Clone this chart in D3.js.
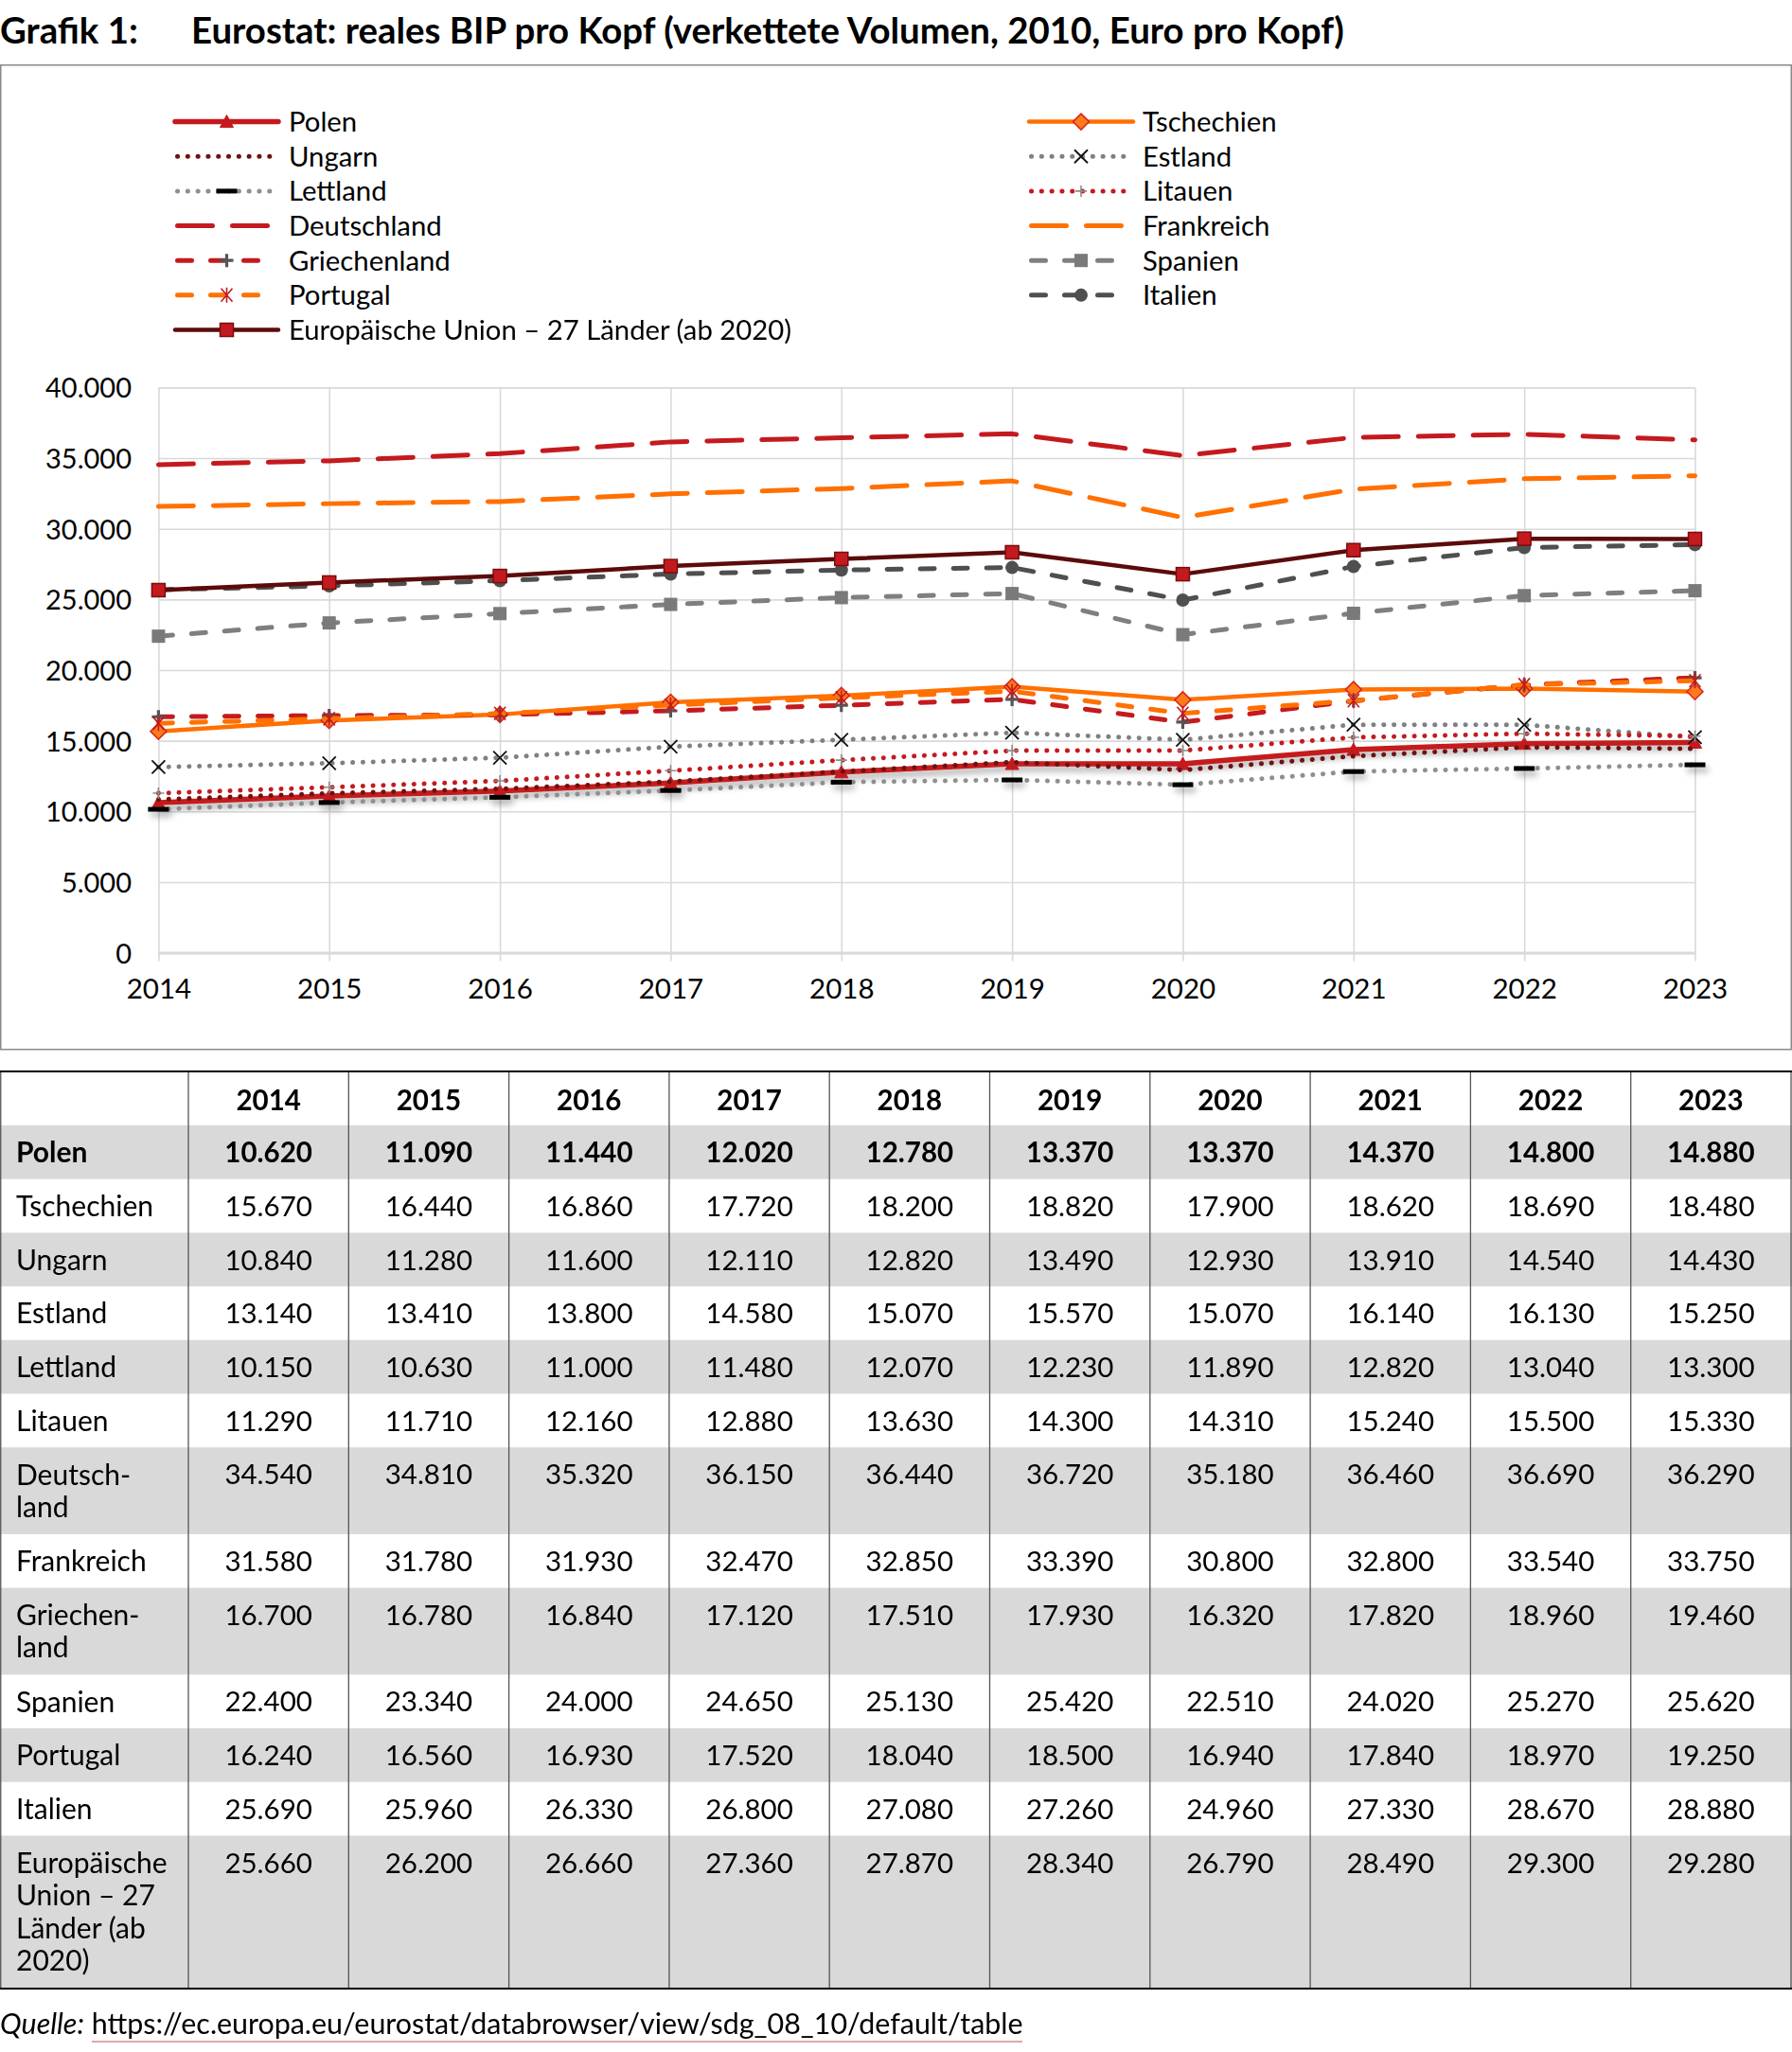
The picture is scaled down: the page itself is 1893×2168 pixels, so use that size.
<!DOCTYPE html>
<html><head><meta charset="utf-8">
<script src="https://cdn.jsdelivr.net/npm/d3@7/dist/d3.min.js"></script>
<style>
html,body{margin:0;padding:0;background:#fff;}
svg{display:block;font-family:Lato,"Noto Sans",sans-serif;}
</style></head><body>
<svg id="c" width="1893" height="2168"></svg>
<script>
// ---------------- data ----------------
const years = [2014, 2015, 2016, 2017, 2018, 2019, 2020, 2021, 2022, 2023];
const yTicks = [0, 5000, 10000, 15000, 20000, 25000, 30000, 35000, 40000];
const countries = ["Polen", "Tschechien", "Ungarn", "Estland", "Lettland", "Litauen", "Deutschland", "Frankreich", "Griechenland", "Spanien", "Portugal", "Italien", "Europäische Union – 27 Länder (ab 2020)"];
const tableLabels = ["Polen", "Tschechien", "Ungarn", "Estland", "Lettland", "Litauen", "Deutsch-\nland", "Frankreich", "Griechen-\nland", "Spanien", "Portugal", "Italien", "Europäische\nUnion – 27\nLänder (ab\n2020)"];
const polen        = [10620, 11090, 11440, 12020, 12780, 13370, 13370, 14370, 14800, 14880];
const tschechien   = [15670, 16440, 16860, 17720, 18200, 18820, 17900, 18620, 18690, 18480];
const ungarn       = [10840, 11280, 11600, 12110, 12820, 13490, 12930, 13910, 14540, 14430];
const estland      = [13140, 13410, 13800, 14580, 15070, 15570, 15070, 16140, 16130, 15250];
const lettland     = [10150, 10630, 11000, 11480, 12070, 12230, 11890, 12820, 13040, 13300];
const litauen      = [11290, 11710, 12160, 12880, 13630, 14300, 14310, 15240, 15500, 15330];
const deutschland  = [34540, 34810, 35320, 36150, 36440, 36720, 35180, 36460, 36690, 36290];
const frankreich   = [31580, 31780, 31930, 32470, 32850, 33390, 30800, 32800, 33540, 33750];
const griechenland = [16700, 16780, 16840, 17120, 17510, 17930, 16320, 17820, 18960, 19460];
const spanien      = [22400, 23340, 24000, 24650, 25130, 25420, 22510, 24020, 25270, 25620];
const portugal     = [16240, 16560, 16930, 17520, 18040, 18500, 16940, 17840, 18970, 19250];
const italien      = [25690, 25960, 26330, 26800, 27080, 27260, 24960, 27330, 28670, 28880];
const eu27         = [25660, 26200, 26660, 27360, 27870, 28340, 26790, 28490, 29300, 29280];
const seriesValues = [polen, tschechien, ungarn, estland, lettland, litauen, deutschland, frankreich, griechenland, spanien, portugal, italien, eu27];

// ---------------- styles ----------------
const RED = "#c41a1f", ORANGE = "#ff7000", MAROON = "#5c0b0b", DKRED = "#6e1111";
const LONG = "37,21", DASH = "15,20", DOT = "0.1,10.7";
const FS = 29.5;
const styles = [
  {color: RED, w: 5.5, dash: null, marker: "triangle", shadow: true},
  {color: ORANGE, w: 4.5, dash: null, marker: "diamond"},
  {color: DKRED, w: 5, dash: DOT, marker: null},
  {color: "#808080", w: 5, dash: DOT, marker: "x"},
  {color: "#8f8f8f", w: 5, dash: DOT, marker: "bar"},
  {color: RED, w: 5, dash: DOT, marker: "smallplus"},
  {color: RED, w: 5, dash: LONG, marker: null},
  {color: ORANGE, w: 5, dash: LONG, marker: null},
  {color: RED, w: 5, dash: DASH, marker: "plus"},
  {color: "#7f7f7f", w: 5, dash: DASH, marker: "square"},
  {color: ORANGE, w: 5, dash: DASH, marker: "asterisk"},
  {color: "#4f4f4f", w: 5, dash: DASH, marker: "circle"},
  {color: MAROON, w: 4.5, dash: null, marker: "eusquare"}
];

const fmt = d3.formatLocale({decimal: ",", thousands: ".", grouping: [3], currency: ["", "€"]}).format(",");

const svg = d3.select("#c");
const defs = svg.append("defs");
const f = defs.append("filter").attr("id", "shadow").attr("x", "-20%").attr("y", "-50%").attr("width", "140%").attr("height", "300%");
f.append("feDropShadow").attr("dx", 3).attr("dy", 5).attr("stdDeviation", 3.5).attr("flood-color", "#000").attr("flood-opacity", 0.35);

// ---------------- title ----------------
svg.append("text").attr("x", 0).attr("y", 46).attr("font-size", 38.4).attr("font-weight", 700).attr("fill", "#000").text("Grafik 1:");
svg.append("text").attr("x", 202).attr("y", 46).attr("font-size", 38.4).attr("font-weight", 700).attr("fill", "#000")
  .text("Eurostat: reales BIP pro Kopf (verkettete Volumen, 2010, Euro pro Kopf)");

// chart frame
svg.append("rect").attr("x", 0.75).attr("y", 68.75).attr("width", 1891.5).attr("height", 1040)
  .attr("fill", "none").attr("stroke", "#8a8a8a").attr("stroke-width", 1.5);

// ---------------- scales ----------------
const x = d3.scaleLinear().domain([years[0], years[years.length - 1]]).range([167.4, 1790.5]);
const y = d3.scaleLinear().domain([0, 40000]).range([1006.6, 409.4]);

// gridlines
const g = svg.append("g");
g.append("g").attr("transform", `translate(${x.range()[0]},0)`)
  .call(d3.axisLeft(y).tickValues(yTicks.slice(1)).tickSize(-(x.range()[1] - x.range()[0])).tickFormat(""))
  .call(s => s.select(".domain").remove())
  .call(s => s.selectAll("line").attr("stroke", "#d9d9d9").attr("stroke-width", 1.6));
g.append("g").attr("transform", `translate(0,${y(40000)})`)
  .call(d3.axisBottom(x).tickValues(years).tickSize(y(0) - y(40000) + 9).tickFormat(""))
  .call(s => s.select(".domain").remove())
  .call(s => s.selectAll("line").attr("stroke", "#d9d9d9").attr("stroke-width", 1.6));
g.append("g").attr("transform", `translate(0,${y(0)})`)
  .call(d3.axisBottom(x).tickValues(years).tickSize(0).tickFormat(""))
  .call(s => s.select(".domain").attr("stroke", "#d9d9d9").attr("stroke-width", 3));

// axis labels
svg.append("g").attr("transform", `translate(139,0)`)
  .call(d3.axisLeft(y).tickValues(yTicks).tickSize(0).tickPadding(0).tickFormat(fmt))
  .call(s => s.select(".domain").remove())
  .call(s => s.selectAll("text").attr("font-size", 29).attr("font-family", "Lato").attr("fill", "#000").attr("dy", "0.36em"));
svg.append("g").attr("transform", `translate(0,1044)`)
  .call(d3.axisBottom(x).tickValues(years).tickSize(0).tickPadding(0).tickFormat(d3.format("d")))
  .call(s => s.select(".domain").remove())
  .call(s => s.selectAll("text").attr("font-size", FS).attr("font-family", "Lato").attr("fill", "#000").attr("y", 0).attr("dy", "0.36em"));

// ---------------- markers ----------------
function drawMarker(sel, type, cx, cy) {
  const m = sel.append("g").attr("transform", `translate(${cx},${cy})`);
  switch (type) {
    case "triangle":
      m.append("path").attr("d", "M0,-7L7,6L-7,6Z").attr("fill", RED).attr("stroke", RED).attr("stroke-width", 1); break;
    case "diamond":
      m.append("path").attr("d", "M0,-8.5L8.5,0L0,8.5L-8.5,0Z").attr("fill", "#ff7a1a").attr("stroke", "#d8261c").attr("stroke-width", 1.5); break;
    case "x":
      m.append("path").attr("d", "M-7,-7L7,7M-7,7L7,-7").attr("stroke", "#111").attr("stroke-width", 1.8).attr("fill", "none"); break;
    case "bar":
      m.append("rect").attr("x", -11).attr("y", -2.5).attr("width", 22).attr("height", 5).attr("fill", "#000"); break;
    case "smallplus":
      m.append("path").attr("d", "M-6,0H6M0,-6V6").attr("stroke", "#8c8c8c").attr("stroke-width", 1.6).attr("fill", "none"); break;
    case "plus":
      m.append("path").attr("d", "M-7,0H7M0,-7V7").attr("stroke", "#555").attr("stroke-width", 3.2).attr("fill", "none"); break;
    case "square":
      m.append("rect").attr("x", -7).attr("y", -7).attr("width", 14).attr("height", 14).attr("fill", "#7a7a7a"); break;
    case "asterisk":
      m.append("path").attr("d", "M-6,-7L6,7M-6,7L6,-7M0,-8V8").attr("stroke", RED).attr("stroke-width", 1.6).attr("fill", "none"); break;
    case "circle":
      m.append("circle").attr("r", 7).attr("fill", "#4f4f4f"); break;
    case "eusquare":
      m.append("rect").attr("x", -7).attr("y", -7).attr("width", 14).attr("height", 14).attr("fill", "#c41a1f").attr("stroke", "#7a0d0d").attr("stroke-width", 1.5); break;
  }
  return m;
}

// ---------------- series ----------------
const line = d3.line().x((d, i) => x(years[i])).y(d => y(d));
const plot = svg.append("g");
seriesValues.forEach((vals, k) => {
  const st = styles[k];
  const gs = plot.append("g");
  const p = gs.append("path").datum(vals).attr("d", line)
    .attr("fill", "none").attr("stroke", st.color).attr("stroke-width", st.w)
    .attr("stroke-linejoin", "round").attr("stroke-linecap", st.dash ? "round" : "butt");
  if (st.dash) p.attr("stroke-dasharray", st.dash);
  if (st.shadow) p.attr("filter", "url(#shadow)");
  if (st.marker) {
    const mg = gs.append("g");
    if (st.marker === "bar") mg.attr("filter", "url(#shadow)");
    vals.forEach((v, i) => drawMarker(mg, st.marker, x(years[i]), y(v)));
  }
});

// ---------------- legend ----------------
const leg = svg.append("g");
countries.forEach((name, k) => {
  const st = styles[k];
  const col = k % 2, row = Math.floor(k / 2);
  const x0 = col === 0 ? 185 : 1087, x1 = col === 0 ? 294 : 1197, tx = col === 0 ? 305 : 1207;
  const cy = 128.6 + row * 36.65;
  const l = leg.append("line").attr("x1", x0 + (st.dash ? 2.5 : 0)).attr("x2", x1 - (st.dash ? 2.5 : 0)).attr("y1", cy).attr("y2", cy)
    .attr("stroke", st.color).attr("stroke-width", st.w).attr("stroke-linecap", "round");
  if (st.dash) l.attr("stroke-dasharray", st.dash);
  if (st.marker) drawMarker(leg, st.marker, (x0 + x1) / 2, cy);
  leg.append("text").attr("x", tx).attr("y", cy).attr("dy", "0.36em").attr("font-size", 29.3).attr("fill", "#000").text(name);
});

// ---------------- table ----------------
const tTop = 1132, headH = 57, baseH = 56.7, lineH = 35;
const cols = d3.scaleBand().domain(years).range([199, 1892]).padding(0);
const tbl = svg.append("g");
let yy = tTop + headH;
const rowsY = [];
tableLabels.forEach((lab, r) => {
  const n = lab.split("\n").length;
  const h = baseH + (n - 1) * lineH;
  rowsY.push([yy, h]);
  if (r % 2 === 0) tbl.append("rect").attr("x", 0).attr("y", yy).attr("width", 1893).attr("height", h).attr("fill", "#d9d9d9");
  yy += h;
});
const tBottom = yy;
[0, 199, ...years.map(d => cols(d) + cols.bandwidth())].forEach(xv => {
  const xx = Math.min(Math.max(xv, 0.75), 1892.25);
  tbl.append("line").attr("x1", xx).attr("x2", xx).attr("y1", tTop).attr("y2", tBottom).attr("stroke", "#555").attr("stroke-width", 1.3);
});
tbl.append("line").attr("x1", 0).attr("x2", 1893).attr("y1", tTop).attr("y2", tTop).attr("stroke", "#000").attr("stroke-width", 2);
tbl.append("line").attr("x1", 0).attr("x2", 1893).attr("y1", tBottom).attr("y2", tBottom).attr("stroke", "#000").attr("stroke-width", 2);
years.forEach(yr => {
  tbl.append("text").attr("x", cols(yr) + cols.bandwidth() / 2).attr("y", tTop + 30).attr("dy", "0.36em")
    .attr("text-anchor", "middle").attr("font-size", FS).attr("font-weight", 700).text(yr);
});
tableLabels.forEach((lab, r) => {
  const [ty] = rowsY[r];
  const bold = r === 0 ? 700 : 400;
  lab.split("\n").forEach((ln, j) => {
    tbl.append("text").attr("x", 17).attr("y", ty + 28.5 + j * 34.5).attr("dy", "0.36em")
      .attr("font-size", 30).attr("font-weight", bold).text(ln);
  });
  seriesValues[r].forEach((v, i) => {
    tbl.append("text").attr("x", cols(years[i]) + cols.bandwidth() / 2).attr("y", ty + 28.5).attr("dy", "0.36em")
      .attr("text-anchor", "middle").attr("font-size", FS).attr("font-weight", bold).text(fmt(v));
  });
});

// ---------------- source ----------------
const src = svg.append("text").attr("x", 0).attr("y", 2149).attr("font-size", 30.4);
src.append("tspan").attr("font-style", "italic").text("Quelle:");
src.append("tspan").text(" https://ec.europa.eu/eurostat/databrowser/view/sdg_08_10/default/table");
svg.append("line").attr("x1", 97).attr("x2", 1080).attr("y1", 2157).attr("y2", 2157).attr("stroke", "#e3a6a6").attr("stroke-width", 2);
</script>
</body></html>
